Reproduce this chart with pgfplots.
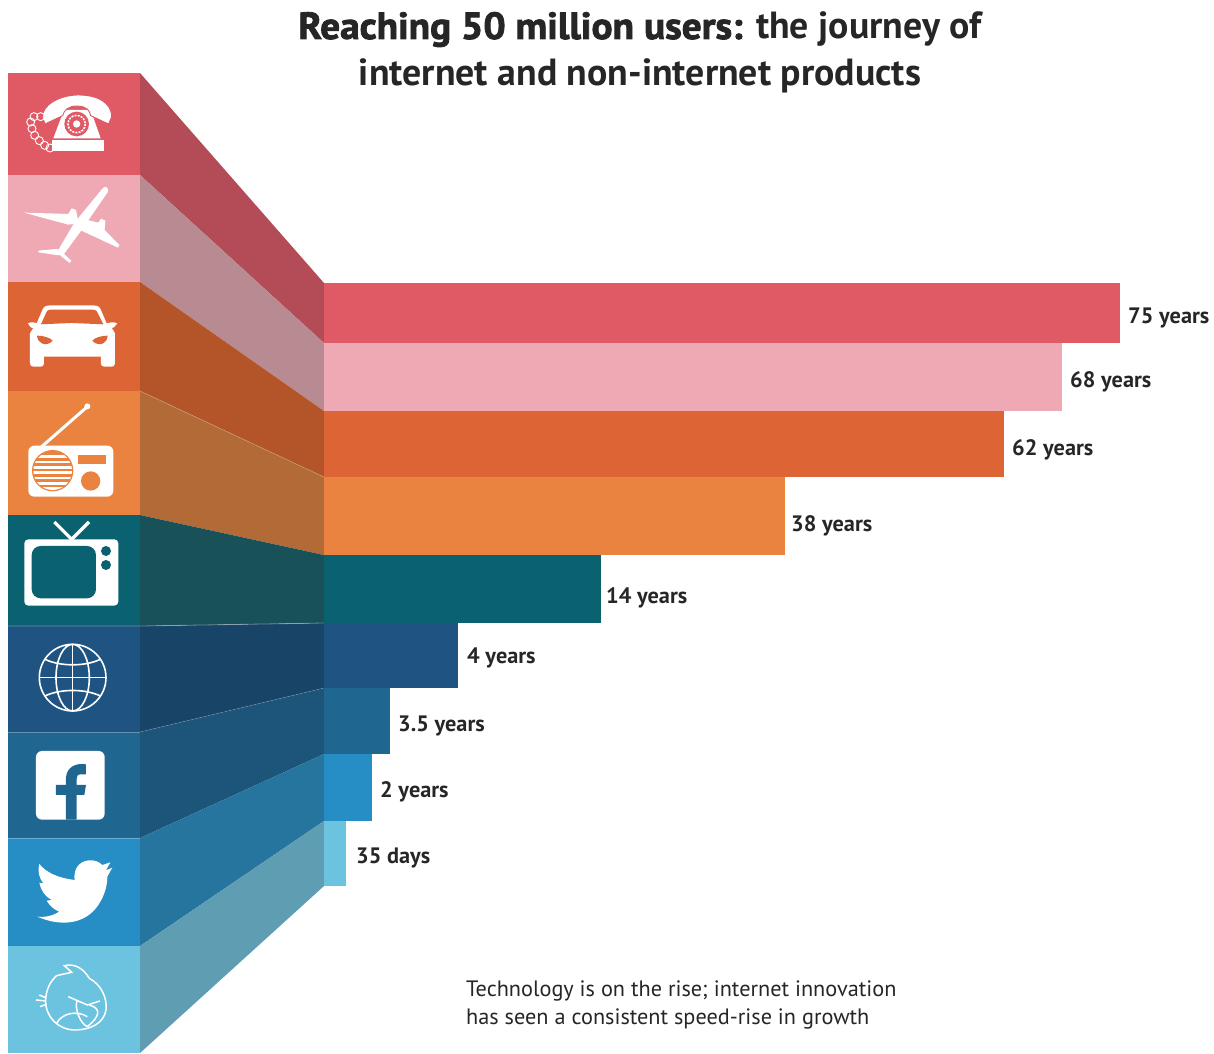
\documentclass[border=0pt]{standalone}
\usepackage{fontspec}
\setmainfont{PT Sans}
\newfontfamily\heavy[FakeBold=2.2,FakeStretch=1.04]{PT Sans Bold}
\newfontfamily\semi{PT Sans Bold}
\usepackage{pgfplots}
\pgfplotsset{compat=1.18}

\definecolor{cRed}{HTML}{E05A66}   \definecolor{rRed}{HTML}{B34C56}
\definecolor{cPink}{HTML}{EFA9B4}  \definecolor{rPink}{HTML}{B88A92}
\definecolor{cBurnt}{HTML}{DD6434} \definecolor{rBurnt}{HTML}{B35529}
\definecolor{cOrange}{HTML}{E9833F}\definecolor{rOrange}{HTML}{B26B36}
\definecolor{cTeal}{HTML}{0A6170}  \definecolor{rTeal}{HTML}{195158}
\definecolor{cNavy}{HTML}{1F5382}  \definecolor{rNavy}{HTML}{184468}
\definecolor{cSteel}{HTML}{1F6690} \definecolor{rSteel}{HTML}{1C547A}
\definecolor{cBlue}{HTML}{268DC5}  \definecolor{rBlue}{HTML}{26759F}
\definecolor{cSky}{HTML}{6CC3E0}   \definecolor{rSky}{HTML}{5F9DB3}
\definecolor{ink}{HTML}{262626}

% tile: top, bottom, tile colour; ribbon: tile top/bottom joined to bar top/bottom
\newcommand{\band}[6]{%
  \addplot[fill=#5,draw=none] coordinates {(8,#1)(140,#1)(140,#2)(8,#2)} -- cycle;
  \addplot[fill=#6,draw=none] coordinates {(140,#1)(324,#3)(324,#4)(140,#2)} -- cycle;
}
% bar: value in years, centre, thickness, colour, label, label offsets
\newcommand{\yearbar}[7]{%
  \addplot[xbar,bar width=#3pt,bar shift=0pt,fill=#4,draw=none,
    nodes near coords={#5},
    every node near coord/.append style={anchor=west,inner sep=0pt,text=ink,
      font=\semi\fontsize{22.3}{24}\selectfont,xshift=#6pt,yshift=#7pt}]
    coordinates {(#1,#2)};
}

\begin{document}
\begin{tikzpicture}[x=1pt,y=1pt]
\path (0,0) rectangle (1214,1053);

% tiles and ribbons, in pixel units with y running downward
\begin{axis}[at={(0pt,0pt)},anchor=south west,scale only axis,width=1214pt,height=1053pt,
  xmin=0,xmax=1214,ymin=0,ymax=1053,y dir=reverse,hide axis,clip=false]
\band{73}{175}{283}{343}{cRed}{rRed}
\band{175}{282}{343}{411}{cPink}{rPink}
\band{282}{391}{411}{477}{cBurnt}{rBurnt}
\band{391}{515}{477}{555}{cOrange}{rOrange}
\band{515}{626}{555}{623}{cTeal}{rTeal}
\band{626}{732}{623}{688}{cNavy}{rNavy}
\band{732}{838}{688}{754}{cSteel}{rSteel}
\band{838}{946}{754}{821}{cBlue}{rBlue}
\band{946}{1053}{821}{886}{cSky}{rSky}
% faint seams between neighbouring bands
\addplot[white,opacity=.35,line width=.8pt] coordinates {(8,626)(140,626)(324,623)(600,623)};
\addplot[white,opacity=.3,line width=.8pt] coordinates {(8,732)(140,732)};
\addplot[white,opacity=.15,line width=.8pt] coordinates {(140,732)(324,688)};
\addplot[white,opacity=.3,line width=.8pt] coordinates {(8,838)(140,838)};
\addplot[white,opacity=.2,line width=.8pt] coordinates {(140,391)(324,477)};
\end{axis}

% bars in years, with the horizontal scale compressed piecewise to pixel lengths
\begin{axis}[at={(324pt,0pt)},anchor=south west,scale only axis,width=796pt,height=1053pt,
  xmin=0,xmax=796,ymin=0,ymax=1053,y dir=reverse,hide axis,clip=false,
  x filter/.code={\pgfmathparse{
    #1<=0.0959 ? 22*#1/0.0959 :
    (#1<=2 ? 22+(#1-0.0959)*26/1.9041 :
    (#1<=3.5 ? 48+(#1-2)*18/1.5 :
    (#1<=4 ? 66+(#1-3.5)*68/0.5 :
    (#1<=14 ? 134+(#1-4)*143/10 :
    (#1<=38 ? 277+(#1-14)*184/24 :
    (#1<=62 ? 461+(#1-38)*219/24 :
    (#1<=68 ? 680+(#1-62)*58/6 :
    738+(#1-68)*58/7)))))))}}]
\yearbar{75}{313}{60}{cRed}{75 years}{8}{-5}
\yearbar{68}{377}{68}{cPink}{68 years}{8}{-5}
\yearbar{62}{444}{66}{cBurnt}{62 years}{8}{-6}
\yearbar{38}{516}{78}{cOrange}{38 years}{6}{-10}
\yearbar{14}{589}{68}{cTeal}{14 years}{5}{-9}
\yearbar{4}{655.5}{65}{cNavy}{4 years}{9}{-2}
\yearbar{3.5}{721}{66}{cSteel}{3.5 years}{8}{-5}
\yearbar{2}{787.5}{67}{cBlue}{2 years}{8}{-4}
\yearbar{0.0959}{853.5}{65}{cSky}{35 days}{10}{-4}
\end{axis}

% icons traced at triple scale
\begin{scope}[shift={(0,993)},x=.3333pt,y=-.3333pt]
  % telephone
  \fill[white] (192,150) -- (272,150) -- (302,235) -- (160,235) -- cycle;
  \fill[white] (155,240) rectangle (312,272);
  \fill[white,draw=cRed,line width=.9pt] (128,172) .. controls (125,135) and (180,105) .. (235,105)
     .. controls (295,105) and (335,130) .. (335,170) -- (326,192) -- (272,167)
     .. controls (268,150) and (262,140) .. (232,138) .. controls (205,138) and (192,150) .. (188,167)
     -- (135,192) -- cycle;
  \fill[cRed] (230,192) circle (37);
  \draw[white,line width=1.6pt,dash pattern=on 2pt off 1.2pt] (230,192) circle (26);
  \fill[white] (230,192) circle (11);
  \foreach \a/\b in {122/170,102/170,92/186,96/206,104/226,118/242,134/256,150/264}
    \draw[white,line width=.9pt] (\a,\b) circle (12);
  % aeroplane
  \fill[white] (308,385) .. controls (316,376) and (328,382) .. (323,397) -- (245,510)
     -- (190,585) -- (172,575) -- (222,490) -- cycle;
  \fill[white] (72,458) -- (205,462) -- (215,445) -- (228,450) -- (236,490) -- (205,494) -- cycle;
  \fill[white] (262,480) -- (295,488) -- (303,476) -- (316,482) -- (314,510) -- (358,555) -- (354,563) -- (240,510) -- cycle;
  \fill[white] (115,572) -- (170,567) -- (190,575) -- (175,586) -- (115,577) -- cycle;
  \fill[white] (170,578) -- (190,580) -- (214,602) -- (209,609) -- cycle;
  % car
  \fill[white] (108,795) -- (128,748) .. controls (133,738) and (140,736) .. (150,736) -- (280,736)
     .. controls (290,736) and (297,738) .. (302,748) -- (322,795) -- cycle;
  \fill[white] (84,790) .. controls (95,785) and (105,787) .. (112,790) -- (112,808) -- (92,802) -- cycle;
  \fill[white] (352,790) .. controls (340,785) and (330,787) .. (320,790) -- (320,808) -- (342,802) -- cycle;
  \fill[white] (90,820) -- (105,795) -- (330,795) -- (345,820) -- (345,910)
     .. controls (345,918) and (340,920) .. (335,920) -- (312,920) .. controls (305,920) and (303,915) .. (303,910)
     -- (303,890) -- (132,890) -- (132,910) .. controls (132,917) and (128,920) .. (122,920)
     -- (100,920) .. controls (94,920) and (90,916) .. (90,910) -- cycle;
  \fill[cBurnt] (123,793) -- (140,755) .. controls (143,750) and (148,749) .. (152,749) -- (278,749)
     .. controls (284,749) and (288,750) .. (291,755) -- (310,793) -- (215,789) -- cycle;
  \fill[cBurnt] (111,827) .. controls (130,827) and (150,833) .. (158,842) .. controls (150,853) and (135,855) .. (125,850) .. controls (117,846) and (112,838) .. (111,827) -- cycle;
  \fill[cBurnt] (323,827) .. controls (304,827) and (285,833) .. (277,842) .. controls (285,853) and (300,855) .. (310,850) .. controls (318,846) and (322,838) .. (323,827) -- cycle;
\end{scope}

\begin{scope}[shift={(0,673)},x=.3333pt,y=-.3333pt]
  % radio
  \draw[white,line width=3pt] (262,80) -- (125,200);
  \fill[white] (262,79) circle (9);
  \fill[white,rounded corners=6pt] (85,197) rectangle (340,350);
  \fill[cOrange] (158,272) circle (62);
  \begin{scope}
    \clip (158,272) circle (58);
    \foreach \s in {226,242,258,274,290,306,322}
      \fill[white] (90,\s) rectangle (230,\s+8);
  \end{scope}
  \fill[cOrange] (235,226) rectangle (317,251);
  \fill[cOrange] (272,303) circle (29);
  % television
  \draw[white,line width=3.3pt] (163,426) -- (215,478) -- (267,426);
  \fill[white,rounded corners=4pt] (73,478) rectangle (355,677);
  \fill[cTeal,rounded corners=9pt] (95,498) rectangle (288,655);
  \fill[cTeal] (318,513) circle (15);
  \fill[cTeal] (318,555) circle (15);
  % globe
  \begin{scope}[white,line width=1.6pt]
    \draw (218,893) circle (100);
    \draw (218,893) ellipse (50 and 100);
    \draw (218,793) -- (218,993);
    \draw (118,893) -- (318,893);
    \draw (135,838) .. controls (180,860) and (256,860) .. (301,838);
    \draw (135,948) .. controls (180,926) and (256,926) .. (301,948);
  \end{scope}
\end{scope}

\begin{scope}[shift={(0,338)},x=.3333pt,y=-.3333pt]
  % facebook
  \fill[white,rounded corners=6pt] (108,108) rectangle (314,314);
  \fill[cSteel] (198,314) -- (198,240) -- (168,240) -- (168,210) -- (198,210) -- (198,188)
     .. controls (200,155) and (230,143) .. (258,148) -- (258,178) -- (242,178)
     .. controls (232,178) and (230,184) .. (230,192) -- (230,210) -- (258,210) -- (253,240) -- (230,240) -- (230,314) -- cycle;
  % twitter
  \fill[white] (112,605) .. controls (180,635) and (255,630) .. (295,570)
     .. controls (315,540) and (322,510) .. (322,485) -- (337,458) -- (318,466) -- (331,442) -- (307,450)
     .. controls (285,428) and (245,432) .. (230,458) .. controls (224,470) and (222,482) .. (224,495)
     .. controls (180,490) and (140,475) .. (118,447) .. controls (112,470) and (118,490) .. (130,505)
     -- (118,503) .. controls (122,525) and (135,545) .. (155,555) -- (140,557)
     .. controls (150,575) and (165,585) .. (178,590) .. controls (160,602) and (135,608) .. (112,605) -- cycle;
  % bird
  \begin{scope}[white,line width=1.5pt]
    \draw (170,782) -- (215,772) -- (193,752) .. controls (225,745) and (250,760) .. (268,790)
       .. controls (305,810) and (322,850) .. (318,885) .. controls (312,925) and (270,945) .. (225,945)
       .. controls (175,945) and (135,905) .. (137,855) .. controls (138,825) and (150,800) .. (170,782) -- cycle;
    \draw (137,848) -- (118,840) (137,858) -- (108,855) (140,868) -- (120,875);
    \draw (205,845) -- (262,870) -- (300,858) (232,855) .. controls (222,880) and (240,925) .. (262,935);
    \draw (170,925) .. controls (185,895) and (230,885) .. (262,905);
    \draw (268,870) .. controls (305,880) and (300,905) .. (262,935);
  \end{scope}
\end{scope}

% headline and note
\node[anchor=base,inner sep=0pt,text=ink] at (640,1014)
  {\fontsize{37.8}{42}\selectfont{\heavy Reaching 50 million users:} {\semi the journey of}};
\node[anchor=base,inner sep=0pt,text=ink] at (640,967.5)
  {\fontsize{37.8}{42}\selectfont\semi internet and non-internet products};
\node[anchor=base west,inner sep=0pt,text=ink] at (466,57)
  {\fontsize{22.25}{26}\selectfont Technology is on the rise; internet innovation};
\node[anchor=base west,inner sep=0pt,text=ink] at (466,29)
  {\fontsize{22.25}{26}\selectfont has seen a consistent speed-rise in growth};
\end{tikzpicture}
\end{document}
